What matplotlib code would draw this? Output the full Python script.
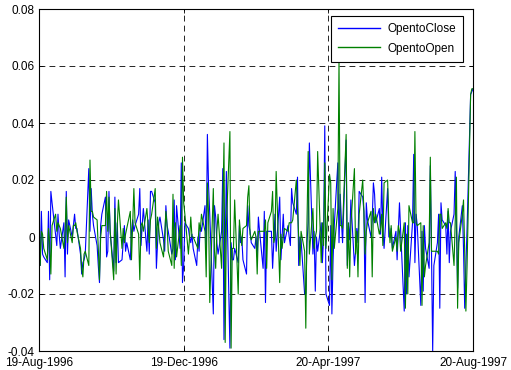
import numpy as np
import pandas as pd
import matplotlib
matplotlib.use('Agg')
import matplotlib.pyplot as plt

plt.rcParams['font.family'] = ['Liberation Sans', 'DejaVu Sans']

# trading days of the sample
dates = pd.bdate_range('1996-08-19', '1997-08-20')

open_to_close = [
    0.003, -0.010, 0.009, -0.006, -0.007, -0.009, 0.009, -0.015, 0.016, 0.012,
    0.001, -0.003, 0.008, 0.001, -0.004, 0.005, -0.014, 0.016, -0.006, 0.006,
    0.000, 0.004, 0.008, 0.003, 0.003, -0.006, -0.013, -0.009, -0.008, -0.006,
    0.024, 0.002, 0.017, 0.008, 0.004, -0.003, -0.010, -0.016, 0.004, 0.008,
    0.014, -0.007, -0.005, 0.016,
    0.002, -0.012, 0.014, -0.009, 0.005, -0.009,
    -0.008, -0.002, 0.004, -0.005, -0.002, -0.008, 0.002, 0.006, 0.002, 0.004,
    0.008, 0.017, -0.003, 0.004, 0.010, -0.005, 0.006, -0.006, 0.016, 0.016,
    0.012, -0.011, -0.002, 0.005, 0.007, -0.001, -0.005, 0.011, 0.004, 0.002,
    -0.006, -0.004, 0.013, -0.008, 0.011, -0.004, 0.026, -0.016,
    -0.010, 0.005,
    0.003, 0.000, -0.002, 0.001, -0.004, -0.010, 0.000, -0.005, 0.004, 0.002,
    0.011, -0.006, 0.036, 0.018, 0.008, -0.027, 0.011, 0.007, -0.002, -0.006,
    0.002, 0.024, -0.036, -0.005, 0.023, -0.039, -0.002, -0.008, -0.008, -0.004,
    -0.009, 0.004, -0.002, 0.000, -0.008, -0.013, 0.011, 0.004, 0.002, -0.002,
    -0.004, 0.000,
    -0.007, 0.007, 0.002, -0.011, 0.009, -0.023, 0.002, 0.002,
    0.002, -0.011, -0.002, 0.008, -0.005, 0.014, -0.008, 0.000, 0.008, -0.002,
    0.004, 0.000, -0.003, 0.017, 0.012, 0.008, 0.021, -0.010, 0.000, -0.001,
    -0.020, -0.020, -0.002, 0.005, 0.033, -0.006, 0.002, -0.019, 0.000, -0.005,
    0.005, -0.009, 0.000, 0.039, -0.020,
    -0.024, 0.004, -0.027, -0.008, 0.004,
    0.026, -0.002, 0.015, 0.006, -0.002, 0.034, -0.010, 0.004, -0.001, 0.013,
    -0.010, -0.005, 0.003, -0.002, 0.016, 0.014, 0.009, -0.023, 0.012, 0.006,
    0.000, 0.006, 0.019, 0.015, 0.005, 0.010, 0.001, 0.021, 0.003, -0.004,
    0.017, 0.000, 0.000, 0.003, -0.004, 0.002, -0.008, 0.002,
    0.012, 0.002,
    -0.026, 0.005, -0.020, 0.004, -0.014, 0.005, 0.029, -0.009, 0.008, 0.004,
    -0.024, 0.002, -0.019, 0.004, -0.004, -0.011, 0.025, -0.005, -0.040, -0.010,
    -0.002, 0.008, -0.025, 0.012, 0.006, 0.004, -0.006, 0.009, -0.009, 0.002,
    0.008, 0.023, 0.004, -0.018, 0.000, 0.011, -0.004, -0.025, -0.010, 0.003,
    0.050, 0.051, 0.052,
]

open_to_open = [
    0.008, -0.010, 0.002, 0.001, -0.004, -0.008, 0.003, -0.002, -0.013, 0.004,
    0.008, 0.002, 0.005, 0.004, 0.003, -0.004, 0.002, 0.014, -0.002, 0.004,
    -0.002, 0.004, 0.004, 0.005, 0.002, -0.004, -0.011, -0.014, -0.006, -0.005,
    -0.010, 0.027, 0.009, 0.009, 0.007, 0.006, -0.004, -0.015, 0.000, 0.004,
    0.004, 0.016, 0.002, 0.014,
    0.002, -0.015, 0.010, -0.013, 0.004, 0.013,
    -0.004, 0.003, -0.002, 0.001, 0.003, 0.009, -0.008, 0.004, 0.017, 0.005,
    0.001, -0.015, 0.004, 0.005, 0.002, 0.010, 0.004, -0.002, 0.006, 0.008,
    0.017, -0.004, 0.007, 0.003, -0.002, -0.007, 0.001, 0.009, 0.004, -0.005,
    -0.010, 0.015, -0.011, 0.005, -0.007, 0.004, -0.010, 0.028,
    0.012, 0.008,
    -0.006, 0.000, 0.007, 0.000, 0.000, -0.003, -0.004, 0.005, 0.002, 0.008,
    0.002, -0.014, 0.019, 0.008, -0.023, 0.017, -0.005, -0.011, 0.002, 0.008,
    -0.011, 0.010, 0.033, -0.037, 0.004, 0.037, -0.039, -0.004, -0.004, 0.013,
    -0.020, 0.006, 0.001, -0.003, 0.003, 0.004, 0.014, 0.018, 0.001, -0.001,
    0.002, 0.000,
    -0.013, 0.002, 0.002, 0.002, 0.002, 0.006, -0.011, 0.005,
    0.009, 0.016, -0.002, 0.000, 0.023, -0.016, 0.001, -0.004, 0.000, 0.003,
    0.002, 0.005, 0.005, 0.005, 0.006, 0.020, 0.010, 0.000, -0.010, 0.002,
    -0.005, -0.032, 0.005, 0.030, -0.006, 0.010, -0.004, 0.000, 0.002, 0.030,
    -0.009, 0.005, -0.003, 0.026, -0.004,
    0.022, 0.019, -0.015, 0.010, -0.004,
    0.010, 0.062, 0.004, 0.004, 0.003, 0.036, -0.011, 0.005, -0.014, 0.004,
    0.024, -0.006, 0.002, -0.014, 0.008, 0.020, 0.009, -0.006, 0.002, 0.005,
    0.009, -0.014, 0.010, 0.005, 0.008, 0.001, 0.003, 0.008, -0.003, 0.019,
    0.020, 0.005, -0.002, 0.004, -0.005, 0.000, -0.005, 0.004,
    0.002, -0.005,
    0.005, -0.025, 0.001, -0.020, 0.011, 0.005, 0.005, 0.037, 0.005, 0.004,
    0.005, -0.024, 0.004, -0.014, -0.010, -0.002, 0.028, -0.005, -0.005, -0.005,
    -0.005, -0.006, 0.008, 0.008, 0.003, 0.005, 0.003, 0.010, 0.005, 0.005,
    -0.010, 0.005, 0.021, -0.025, -0.002, 0.008, 0.013, -0.005, -0.026, -0.010,
    0.050, 0.052, 0.052,
]

tick_dates = ['1996-08-19', '1996-12-19', '1997-04-20', '1997-08-20']
tick_labels = ['19-Aug-1996', '19-Dec-1996', '20-Apr-1997', '20-Aug-1997']
y_ticks = [-0.04, -0.02, 0, 0.02, 0.04, 0.06, 0.08]
y_labels = ['-0.04', '-0.02', '0', '0.02', '0.04', '0.06', '0.08']

fig = plt.figure(figsize=(5.11, 3.70), dpi=100)
ax = fig.add_axes([39/511, 19/370, 434/511, 342/370])

ax.plot(dates, open_to_close, color=(0, 0, 1), linewidth=0.8, label='OpentoClose')
ax.plot(dates, open_to_open, color=(0, 0.5, 0), linewidth=0.8, label='OpentoOpen')

ax.set_xlim(pd.Timestamp(tick_dates[0]), pd.Timestamp(tick_dates[-1]))
ax.set_ylim(-0.04, 0.08)
ax.set_xticks([pd.Timestamp(d) for d in tick_dates])
ax.set_xticklabels(tick_labels)
ax.set_yticks(y_ticks)
ax.set_yticklabels(y_labels)

ax.grid(True, color='k', linestyle=(0, (7, 5)), linewidth=0.6)
ax.tick_params(direction='in', length=3, width=0.6, top=True, right=True,
               labelsize=8.5)
ax.tick_params(axis='x', pad=4.5)
ax.tick_params(axis='y', pad=3)
for s in ax.spines.values():
    s.set_linewidth(0.8)

leg = ax.legend(loc='upper right', bbox_to_anchor=(0.977, 0.980), borderaxespad=0,
                fancybox=False, framealpha=1, edgecolor='k', fontsize=8.5,
                handlelength=3.6, handletextpad=0.6, borderpad=0.6,
                labelspacing=0.65)
leg.get_frame().set_linewidth(0.8)
for line in leg.get_lines():
    line.set_linewidth(1.0)

plt.savefig('out.png', dpi=100)
